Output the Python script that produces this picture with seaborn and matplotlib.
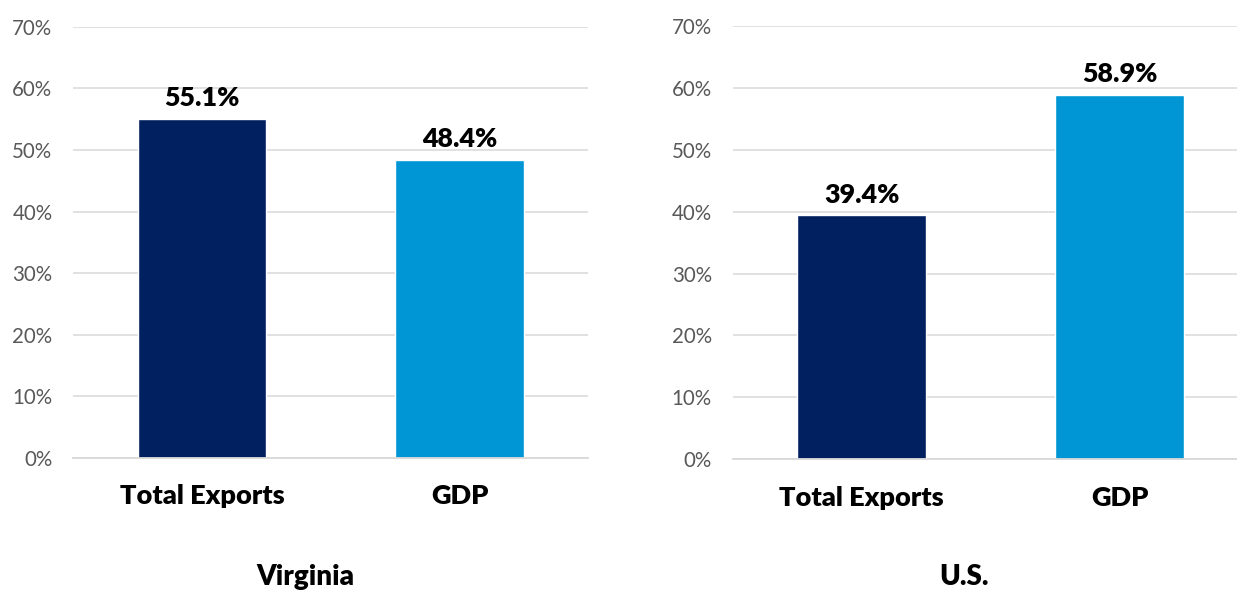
import matplotlib
matplotlib.use("Agg")
import matplotlib.pyplot as plt
import seaborn as sns
import pandas as pd
from matplotlib.ticker import FuncFormatter, FixedLocator

# Share of total exports and GDP
categories = ["Total Exports", "GDP"]
virginia_values = [55.1, 48.4]
us_values = [39.4, 58.9]
panel_titles = ["Virginia", "U.S."]
y_ticks = [0, 10, 20, 30, 40, 50, 60, 70]

NAVY = "#002060"
SKY = "#0096D6"
GRID = "#D9D9D9"
TICK_GRAY = "#595959"

sns.set_theme(style="white")
plt.rcParams["font.family"] = ["Lato", "DejaVu Sans"]

fig = plt.figure(figsize=(12.37, 5.91), dpi=100)
W, H = 1237, 591

# axes rectangles in pixel units: left, top(0%), right, top(70%)
boxes = [(73.3, 457.7, 588.3, 26.9), (732.7, 459.3, 1248.7, 25.8)]
title_x = [305, 964]

for (x0, y0, x1, y1), vals, title, tx in zip(boxes, [virginia_values, us_values], panel_titles, title_x):
    ax = fig.add_axes([x0 / W, (H - y0) / H, (x1 - x0) / W, (y0 - y1) / H])
    df = pd.DataFrame({"category": categories, "value": vals})
    sns.barplot(data=df, x="category", y="value", hue="category",
                palette=[NAVY, SKY], width=0.5, legend=False, ax=ax,
                saturation=1, zorder=3)
    ax.set_xlim(-0.5, 1.5)
    ax.set_ylim(0, 70)
    ax.set_yticks(y_ticks)
    ax.yaxis.set_major_formatter(FuncFormatter(lambda v, p: f"{v:.0f}%"))
    ax.yaxis.grid(True, color=GRID, linewidth=1.1, zorder=0)
    ax.set_axisbelow(True)
    for s in ["left", "right", "top"]:
        ax.spines[s].set_visible(False)
    ax.spines["bottom"].set_color(GRID)
    ax.spines["bottom"].set_linewidth(1.3)
    ax.spines["bottom"].set_zorder(4)
    ax.tick_params(axis="y", length=0, pad=15, labelsize=14.8, labelcolor=TICK_GRAY)
    ax.tick_params(axis="x", which="major", length=0, pad=19, labelsize=19.5)
    for lab in ax.get_xticklabels():
        lab.set_fontweight("heavy")
        lab.set_color("black")
    ax.xaxis.set_minor_locator(FixedLocator([-0.5, 0.5, 1.5]))
    ax.tick_params(axis="x", which="minor", length=6, width=1.3, color=GRID, direction="out")
    ax.set_xlabel("")
    ax.set_ylabel("")
    for i, v in enumerate(vals):
        ax.annotate(f"{v:.1f}%", xy=(i, v), xytext=(0, 9), textcoords="offset points",
                    ha="center", va="baseline", fontsize=19.3, fontweight="heavy", color="black")
    fig.text(tx / W, 6 / H, title, ha="center", va="baseline",
             fontsize=20, fontweight="heavy", color="black")

fig.savefig("out.png", dpi=100, facecolor="white")
